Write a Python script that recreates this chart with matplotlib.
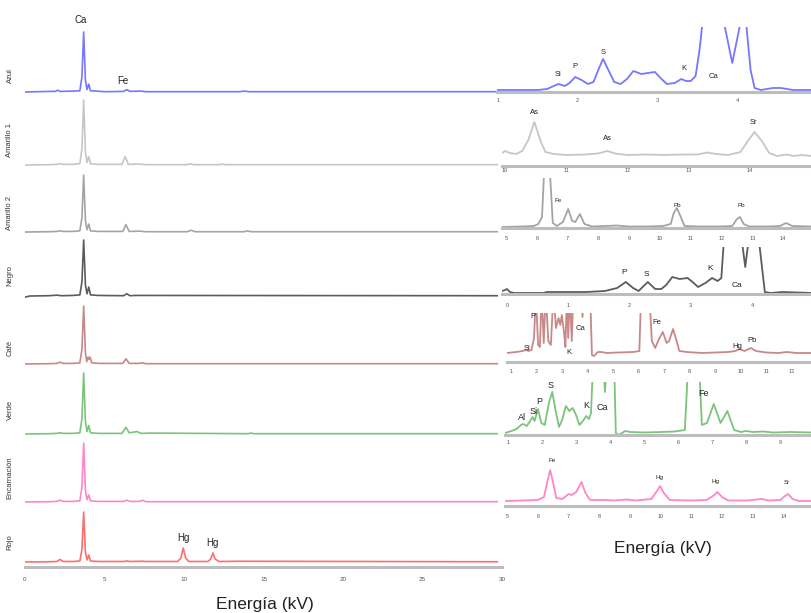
"""Stacked XRF spectra of eight pigment samples with zoomed insets on the right."""

import matplotlib.pyplot as plt

plt.rcParams["font.family"] = ["Liberation Sans", "DejaVu Sans"]

W, H = 812, 613

# ---------------------------------------------------------------- full spectra
# energy (kV) / intensity (% of the Ca K-alpha peak)
SAMPLES = ["Azul", "Amarillo 1", "Amarillo 2", "Negro", "Café", "Verde",
           "Encarnación", "Rojo"]

E_AZUL = [0.0, 1.5, 1.9, 2.05, 2.2, 3.0, 3.45, 3.58, 3.69, 3.8, 3.9, 4.01, 4.12,
          4.5, 5.0, 6.2, 6.4, 6.6, 7.3, 7.6, 10.0, 13.5, 13.8, 14.1, 19.0, 29.7]
I_AZUL = [0, 1, 1, 3, 1, 1.5, 2, 25, 100, 20, 4, 13, 2,
          1.5, 0.5, 1, 4, 1, 1.5, 0.5, 0.5, 0.5, 1.5, 0.5, 0.5, 0.5]

E_AMA1 = [0.0, 1.5, 2.0, 2.2, 2.4, 3.0, 3.45, 3.58, 3.69, 3.8, 3.9, 4.01, 4.12,
          4.6, 6.1, 6.3, 6.5, 7.2, 7.6, 10.2, 10.4, 10.6, 12.2, 12.4, 12.6, 29.7]
I_AMA1 = [0, 0.5, 1, 2, 1, 1, 2, 25, 100, 20, 4, 13, 2,
          1, 1, 13, 1, 1.5, 0.5, 0.5, 2, 0.5, 0.5, 1.5, 0.5, 0.5]

E_AMA2 = [0.0, 1.5, 2.0, 2.2, 2.4, 3.0, 3.45, 3.58, 3.69, 3.8, 3.9, 4.01, 4.12,
          4.6, 6.15, 6.35, 6.55, 7.2, 7.6, 10.2, 10.45, 10.7, 13.8, 14.0, 14.2, 29.7]
I_AMA2 = [0, 0.5, 1, 2, 1, 1, 2, 25, 100, 20, 4, 14, 2,
          1, 1, 13, 1, 1.5, 0.5, 0.5, 3, 0.5, 0.5, 2, 0.5, 0.5]

E_NEGRO = [0.0, 0.3, 1.5, 2.0, 2.3, 3.0, 3.45, 3.58, 3.69, 3.8, 3.9, 4.01, 4.12,
           4.6, 6.2, 6.4, 6.6, 7.0, 29.7]
I_NEGRO = [-2, 0, 0.5, 1.5, 0.5, 1, 2, 25, 100, 20, 4, 16, 2,
           1, 0.5, 4, 0.5, 1, 0.5]

E_CAFE = [0.0, 1.5, 2.0, 2.2, 2.4, 3.0, 3.45, 3.58, 3.69, 3.8, 3.88, 3.96, 4.02,
          4.09, 4.2, 4.7, 6.15, 6.35, 6.55, 7.2, 7.4, 7.6, 29.7]
I_CAFE = [0, 0.5, 1, 3, 1, 1, 2, 25, 100, 20, 4, 12, 8,
          12, 2, 1, 1, 9, 1, 1, 2, 0.5, 0.5]

E_VERDE = [0.0, 1.5, 2.0, 2.2, 2.4, 3.0, 3.45, 3.58, 3.69, 3.8, 3.9, 4.01, 4.12,
           4.6, 6.1, 6.35, 6.55, 7.05, 7.3, 7.8, 14.0, 14.2, 14.4, 29.7]
I_VERDE = [0, 0.5, 1, 2, 1, 1, 2, 25, 100, 20, 4, 14, 2,
           1, 1, 11, 2, 4, 1, 1.5, 0.5, 1.5, 0.5, 0.5]

E_ENC = [0.0, 1.5, 2.0, 2.2, 2.4, 3.0, 3.45, 3.58, 3.69, 3.8, 3.9, 4.01, 4.12,
         4.6, 6.2, 6.4, 6.6, 7.2, 7.4, 7.6, 29.7]
I_ENC = [0, 0.5, 1, 3, 1, 1, 2, 25, 100, 20, 4, 12, 2,
         1, 1, 3, 1, 1, 3, 0.5, 0.5]

E_ROJO = [0.0, 1.5, 2.0, 2.2, 2.4, 3.0, 3.45, 3.58, 3.69, 3.8, 3.9, 4.01, 4.12,
          4.6, 6.2, 6.4, 6.6, 7.4, 7.6, 9.6, 9.8, 9.95, 10.1, 10.3, 11.5, 11.68,
          11.82, 11.96, 12.2, 13.5, 29.7]
I_ROJO = [0, 0.5, 1, 5, 1, 1, 2, 25, 100, 20, 4, 14, 2,
          1, 1, 2, 1, 1.5, 1, 1, 8, 28, 8, 1, 1, 6, 18, 6, 1, 1.5, 0.5]

LEFT_E = [E_AZUL, E_AMA1, E_AMA2, E_NEGRO, E_CAFE, E_VERDE, E_ENC, E_ROJO]
LEFT_I = [I_AZUL, I_AMA1, I_AMA2, I_NEGRO, I_CAFE, I_VERDE, I_ENC, I_ROJO]

COLOURS = ["#7676ff", "#c6c6c6", "#a4a4a4", "#5c5c5c", "#c78888", "#7cc47c",
           "#ff86c8", "#ff6e6e"]
SPINE = "#bdbdbd"

# layout of the stacked panel (data y = 567 - pixel row)
BASE_ROW = [92, 165, 232, 296, 364, 434, 502, 562]
PEAK_PX = [60, 65, 57, 56, 58, 61, 59, 50]
NAME_ROW = [76, 140, 213, 276, 348, 410, 478, 542]

# ---------------------------------------------------------------- insets
# energy (kV) / height above the inset baseline (px-like units, clipped on top)
Z_E_AZUL = [0.99, 1.5, 1.62, 1.7, 1.76, 1.84, 1.9, 1.97, 2.05, 2.13, 2.2, 2.27,
            2.32, 2.38, 2.46, 2.54, 2.62, 2.7, 2.8, 2.88, 2.97, 3.04, 3.12,
            3.22, 3.3, 3.36, 3.42, 3.48, 3.53, 3.57, 3.83, 3.94, 4.05, 4.11,
            4.17, 4.22, 4.3, 4.45, 4.55, 4.7, 4.94]
Z_H_AZUL = [0, 0, 1, 4, 6, 4, 7, 13, 10, 6, 8, 22,
            31, 21, 8, 6, 11, 19, 16, 17, 18, 12, 6,
            7, 11, 9, 9, 14, 40, 70, 70, 27, 70, 70,
            20, 2, 0, 2, 2, 0, 0]

Z_E_AMA1 = [9.95, 10.0, 10.08, 10.18, 10.28, 10.38, 10.48, 10.58, 10.66, 10.8,
            11.0, 11.3, 11.52, 11.67, 11.8, 12.0, 12.3, 12.6, 12.9, 13.15,
            13.3, 13.45, 13.65, 13.85, 13.97, 14.08, 14.2, 14.32, 14.45, 14.6,
            14.72, 14.85, 15.02]
Z_H_AMA1 = [2, 4, 2, 1, 4, 15, 33, 14, 3, 1,
            0, 0.5, 1.5, 4, 1.5, 0, 0.5, 0, 0.5, 0.5,
            2.5, 1, 0, 3, 14, 23, 14, 2, -1, 0.5,
            -1, 0, -1]

Z_E_AMA2 = [4.87, 5.5, 5.9, 6.05, 6.17, 6.26, 6.40, 6.52, 6.65, 6.85, 7.02,
            7.15, 7.25, 7.4, 7.55, 7.8, 8.2, 8.6, 9.0, 9.6, 10.1, 10.35, 10.45,
            10.55, 10.65, 10.8, 11.3, 11.9, 12.35, 12.5, 12.6, 12.72, 12.9,
            13.5, 13.9, 14.1, 14.3, 14.94]
Z_H_AMA2 = [0, 0.5, 1, 3, 10, 70, 70, 4, 1, 5, 18,
            6, 5, 13, 3, 0.5, 1, 1.5, 0.5, 0.5, 1, 3, 14,
            19, 12, 1, 0.5, 0.5, 1, 8, 10, 3, 0.5,
            0.5, 1, 4, 1, 0.5]

Z_E_NEGRO = [-0.08, -0.03, 0.0, 0.05, 0.12, 0.6, 0.65, 1.3, 1.6, 1.8, 1.94,
             2.06, 2.15, 2.3, 2.42, 2.52, 2.6, 2.7, 2.82, 2.95, 3.05, 3.12,
             3.24, 3.35, 3.44, 3.5, 3.55, 3.82, 3.89, 3.96, 4.1, 4.21, 4.3,
             4.5, 4.98]
Z_H_NEGRO = [2, 3, 4, 1, 0, 0, 1, 1, 2, 5, 11,
             5, 2, 11, 4, 4, 8, 16, 14, 15, 10, 6,
             10, 15, 12, 15, 60, 60, 26, 60, 60, 1, 0,
             1, 0]

Z_E_CAFE = [0.84, 1.2, 1.45, 1.58, 1.68, 1.8, 1.9, 1.97, 2.06, 2.13, 2.2, 2.28,
            2.36, 2.46, 2.56, 2.66, 2.76, 2.86, 2.93, 2.99, 3.08, 3.13, 3.19,
            3.24, 3.3, 3.38, 3.44, 3.75, 3.8, 3.85, 4.1, 4.17, 4.25, 4.4, 4.55,
            4.75, 5.2, 5.8, 6.03, 6.1, 6.42, 6.52, 6.65, 6.8, 6.95, 7.1, 7.2,
            7.35, 7.47, 7.6, 7.9, 8.5, 9.0, 9.5, 9.8, 9.95, 10.15, 10.4, 10.6,
            11.0, 11.5, 11.8, 12.2, 12.8]
Z_H_CAFE = [0, 1, 2, 3, 2, 3, 15, 60, 8, 6, 60, 10,
            60, 12, 8, 60, 25, 35, 28, 38, 20, 6, 60,
            15, 60, 12, 60, 60, 36, 60, 60, -2, -3, 1, 1,
            0, 0.5, 1, 2, 60, 60, 12, 5, 14, 21, 10, 12,
            24, 14, 2, 1, 0, 0.5, 1, 2, 4, 2, 5, 2,
            0.5, 0, 1, 0, 0]

Z_E_VERDE = [0.91, 1.1, 1.25, 1.38, 1.45, 1.55, 1.65, 1.72, 1.78, 1.88, 1.98,
             2.08, 2.2, 2.3, 2.4, 2.5, 2.6, 2.7, 2.8, 2.9, 3.0, 3.1, 3.2, 3.3,
             3.38, 3.44, 3.5, 3.8, 3.85, 3.9, 4.12, 4.17, 4.25, 4.45, 4.6, 5.0,
             5.5, 5.9, 6.2, 6.3, 6.62, 6.7, 6.85, 7.05, 7.25, 7.45, 7.65, 7.85,
             8.0, 8.2, 8.5, 8.8, 9.3, 9.94]
Z_H_VERDE = [0, 2, 4, 8, 9, 7, 12, 16, 12, 24, 10,
             8, 30, 41, 22, 6, 14, 27, 22, 25, 18, 8, 12, 17,
             14, 20, 70, 70, 41, 70, 70, 0, -2, 2, 1, 0.5,
             1, 1.5, 3, 70, 70, 8, 10, 29, 10, 22, 3, 1,
             2, 1, 1.5, 0.5, 1, 0.5]

Z_E_ENC = [4.93, 5.5, 6.0, 6.2, 6.3, 6.4, 6.5, 6.6, 6.8, 7.0, 7.1, 7.25, 7.42,
           7.55, 7.7, 8.2, 8.5, 8.9, 9.2, 9.7, 9.88, 9.98, 10.1, 10.3, 11.0,
           11.5, 11.75, 11.85, 12.0, 12.2, 12.8, 13.3, 13.5, 13.9, 14.05, 14.15,
           14.3, 14.5, 14.93]
Z_H_ENC = [0, 0.5, 1, 4, 18, 31, 18, 3, 2, 7, 6, 9, 19,
           8, 1, 1, 0.5, 1.5, 0.5, 2, 10, 15, 8, 1, 0.5,
           1, 6, 9, 4, 0.5, 0.5, 2, 0.5, 1, 5, 7,
           2, 0, 0]

INSET_E = [Z_E_AZUL, Z_E_AMA1, Z_E_AMA2, Z_E_NEGRO, Z_E_CAFE, Z_E_VERDE, Z_E_ENC]
INSET_H = [Z_H_AZUL, Z_H_AMA1, Z_H_AMA2, Z_H_NEGRO, Z_H_CAFE, Z_H_VERDE, Z_H_ENC]
INSET_COLOURS = COLOURS[:7]
INSET_XLIM = [(0.99, 4.94), (9.95, 15.02), (4.87, 14.94), (-0.08, 4.98),
              (0.84, 12.8), (0.91, 9.94), (4.93, 14.93)]
INSET_YLIM = [(-2, 63), (-11, 50), (-1, 49), (-1, 46), (-9, 40), (-2, 51),
              (-5, 41)]
INSET_TICKS = [range(1, 5), range(10, 15), range(5, 15), range(0, 5),
               range(1, 13), range(1, 10), range(5, 15)]
# pixel boxes: left, right, top, bottom(spine)
INSET_BOX = [(497, 812, 27, 92), (502, 812, 105, 166), (502, 812, 178, 228),
             (502, 812, 247, 294), (507, 812, 313, 362), (505, 812, 382, 435),
             (505, 812, 460, 506)]
INSET_PAD = [4.3, 1.4, 5.8, 6.5, 5.0, 3.6, 5.8]

# element labels in the insets: (inset, element, energy, height)
INSET_LABELS = [
    (0, "Si", 1.75, 15), (0, "P", 1.97, 23), (0, "S", 2.32, 38),
    (0, "K", 3.33, 21), (0, "Ca", 3.70, 13),
    (1, "As", 10.48, 42), (1, "As", 11.67, 17), (1, "Sr", 14.07, 32),
    (2, "Fe", 6.69, 26), (2, "Pb", 10.58, 21), (2, "Pb", 12.63, 21),
    (3, "P", 1.91, 20), (3, "S", 2.28, 18), (3, "K", 3.31, 24),
    (3, "Ca", 3.75, 7),
    (4, "Si", 1.63, 4), (4, "P", 1.86, 36), (4, "K", 3.27, 0),
    (4, "Ca", 3.71, 24), (4, "Fe", 6.73, 30), (4, "Hg", 9.86, 6),
    (4, "Pb", 10.45, 13),
    (5, "Al", 1.41, 15), (5, "Si", 1.74, 22), (5, "P", 1.91, 32),
    (5, "S", 2.24, 47), (5, "K", 3.29, 27), (5, "Ca", 3.76, 26),
    (5, "Fe", 6.76, 40),
    (6, "Fe", 6.47, 40), (6, "Hg", 9.95, 24), (6, "Hg", 11.78, 19),
    (6, "Sr", 14.12, 19),
]
INSET_LABEL_SIZE = [5.5, 5.5, 4.5, 6, 5.5, 6.5, 4.5]

# element labels in the stacked panel: (element, energy, pixel row)
LEFT_LABELS = [("Ca", 3.52, 20), ("Fe", 6.16, 81), ("Hg", 9.94, 538),
               ("Hg", 11.76, 543)]


def px_axes(fig, left, right, top, bottom):
    return fig.add_axes([left / W, 1 - bottom / H, (right - left) / W,
                         (bottom - top) / H])


def style_axis(ax, ticks, pad, size):
    for side in ("top", "right", "left"):
        ax.spines[side].set_visible(False)
    ax.spines["bottom"].set_color(SPINE)
    ax.spines["bottom"].set_linewidth(2.2)
    ax.set_yticks([])
    ax.set_xticks(list(ticks))
    ax.tick_params(axis="x", length=0, labelsize=size, pad=pad,
                   labelcolor="#555555")
    ax.patch.set_alpha(0)


fig = plt.figure(figsize=(W / 100, H / 100), dpi=100)

# stacked spectra
ax = px_axes(fig, 25, 502, 10, 567)
ax.set_xlim(0, 30)
ax.set_ylim(0, 557)
for e, i, c, row, h in zip(LEFT_E, LEFT_I, COLOURS, BASE_ROW, PEAK_PX):
    ax.plot(e, [567 - row + v / 100 * h for v in i], color=c, lw=1.2,
            solid_joinstyle="round")
style_axis(ax, range(0, 31, 5), 7.2, 4.5)
for name, row in zip(SAMPLES, NAME_ROW):
    fig.text(10 / W, 1 - row / H, name, rotation=90, ha="center", va="center",
             fontsize=5.5, color="#333333")
for el, e, row in LEFT_LABELS:
    ax.text(e, 567 - row, el, ha="center", va="center", fontsize=7,
            color="#222222")
fig.text(265 / W, 1 - 604 / H, "Energía (kV)", ha="center", va="center",
         fontsize=12.5, color="#222222")

# zoomed insets
axes = []
for k in range(len(INSET_E)):
    l, r, t, b = INSET_BOX[k]
    a = px_axes(fig, l, r, t, b)
    a.plot(INSET_E[k], INSET_H[k], color=INSET_COLOURS[k], lw=1.3,
           solid_joinstyle="round")
    a.set_xlim(*INSET_XLIM[k])
    a.set_ylim(*INSET_YLIM[k])
    style_axis(a, INSET_TICKS[k], INSET_PAD[k], 4)
    axes.append(a)
for k, el, e, h in INSET_LABELS:
    axes[k].text(e, h, el, ha="center", va="center",
                 fontsize=INSET_LABEL_SIZE[k], color="#222222", clip_on=False)
fig.text(663 / W, 1 - 548 / H, "Energía (kV)", ha="center", va="center",
         fontsize=12.5, color="#222222")

fig.savefig("out.png", dpi=100)
